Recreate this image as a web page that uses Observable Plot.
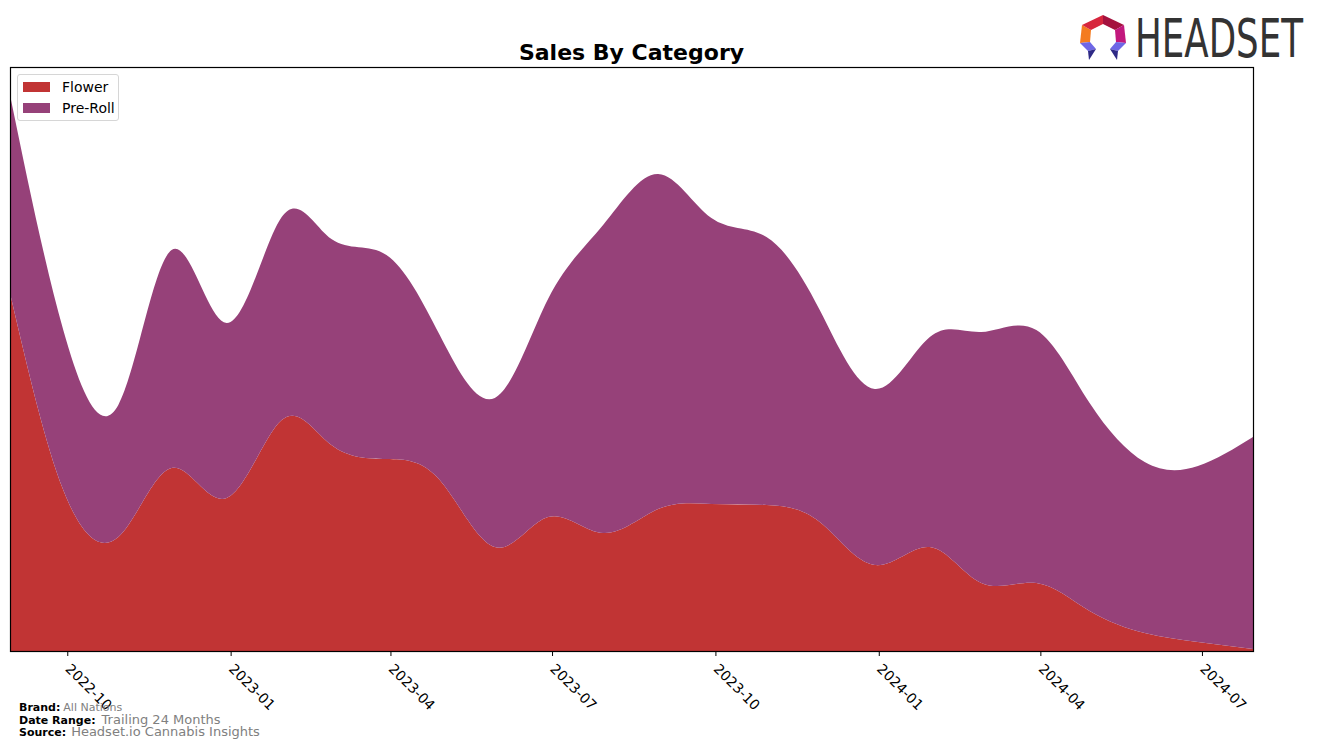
<!DOCTYPE html>
<html>
<head>
<meta charset="utf-8">
<script src="https://cdn.jsdelivr.net/npm/d3@7"></script>
<script src="https://cdn.jsdelivr.net/npm/@observablehq/plot@0.6"></script>
<style>
  body { margin: 0; background: #fff; font-family: "DejaVu Sans", sans-serif; }
  #wrap { position: relative; width: 1317px; height: 747px; overflow: hidden; }
  #chart { position: absolute; left: 0; top: 0; }
  #title { position: absolute; left: 10px; width: 1243px; top: 40px; text-align: center; font-weight: bold; font-size: 22px; color: #000; }
  #legend { position: absolute; left: 17px; top: 74px; width: 100px; height: 45px; border: 1px solid #d6d6d6; border-radius: 3px; background: rgba(255,255,255,0.8); font-size: 14px; }
  .li { position: absolute; left: 5px; height: 16px; display: flex; align-items: center; }
  .sw { width: 27px; height: 10px; margin-right: 12px; }
  #footer { position: absolute; left: 19px; top: 702px; font-size: 11px; line-height: 11.5px; }
  #footer b { color: #000; }
  #footer span { color: #808080; }
  #logo { position: absolute; left: 1072px; top: 0px; pointer-events: none; }
</style>
</head>
<body>
<div id="wrap">
  <div id="chart"></div>
  <div id="title">Sales By Category</div>
  <div id="legend"></div>
  <div id="footer"></div>
  <svg id="logo" width="245" height="86" viewBox="0 0 245 86">
    <g transform="translate(8,15)">
      <polygon points="2,10 11,15 10,27 0,28" fill="#f47b20"/>
      <polygon points="2,10 23,0 23,9 11,15" fill="#d7263d"/>
      <polygon points="23,0 44,10 35,15 23,9" fill="#a5123f"/>
      <polygon points="44,10 46,28 36,27 35,15" fill="#c2187d"/>
      <polygon points="0,28 10,27 16,34 8,36" fill="#6e67e6"/>
      <polygon points="8,36 16,34 9,45" fill="#2e2a86"/>
      <polygon points="46,28 36,27 30,34 38,36" fill="#6e67e6"/>
      <polygon points="38,36 30,34 37,45" fill="#2e2a86"/>
    </g>
    <g transform="translate(63,57) scale(1,1.22)">
      <text x="0" y="0" font-family="'DejaVu Sans Condensed','Liberation Sans Narrow',sans-serif" font-size="43" fill="#333" textLength="168" lengthAdjust="spacingAndGlyphs">HEADSET</text>
    </g>
  </svg>
</div>
<script>
const months = ["2022-09","2022-10","2022-11","2022-12","2023-01","2023-02","2023-03","2023-04","2023-05","2023-06","2023-07","2023-08","2023-09","2023-10","2023-11","2023-12","2024-01","2024-02","2024-03","2024-04","2024-05","2024-06","2024-07","2024-08"];
const categories = ["Flower", "Pre-Roll"];
const flowerSales = [358,161,114,183,153,231,206,192,171,104,134,118,142,147,146,129,86,104,68,68,40,18,9,2];
const preRollSales = [198,160,132,218,175,203,206,204,145,149,218,308,335,286,268,212,176,210,251,253,208,171,176,212];
const tickLabels = ["2022-10","2023-01","2023-04","2023-07","2023-10","2024-01","2024-04","2024-07"];
const colors = ["#c13434", "#964179"];

const parse = d3.utcParse("%Y-%m");
const series = [flowerSales, preRollSales];
const data = months.flatMap((m, i) => categories.map((c, j) => ({date: parse(m), category: c, sales: series[j][i]})));

const chart = Plot.plot({
  width: 1317, height: 747,
  marginLeft: 10, marginRight: 64, marginTop: 67, marginBottom: 96,
  style: {fontFamily: "DejaVu Sans, sans-serif", fontSize: "14px", color: "#000", background: "transparent"},
  x: {type: "utc", domain: [parse(months[0]), parse(months[months.length - 1])]},
  y: {domain: [0, 584], axis: null},
  color: {domain: categories, range: colors},
  marks: [
    Plot.areaY(data, Plot.stackY({x: "date", y: "sales", fill: "category", curve: "natural", order: categories, clip: "frame"})),
    Plot.axisX({ticks: tickLabels.map(parse), tickFormat: d3.utcFormat("%Y-%m"), tickRotate: 45, tickSize: 5, tickPadding: 10, dx: 4, textAnchor: "start", stroke: "#000", fill: "#000", fontSize: 14, label: null}),
    Plot.frame({stroke: "#000", strokeWidth: 1.2})
  ]
});
document.getElementById("chart").appendChild(chart);

const legend = document.getElementById("legend");
categories.forEach((c, i) => {
  const row = document.createElement("div");
  row.className = "li";
  row.style.top = (4 + i * 21) + "px";
  row.innerHTML = `<div class="sw" style="background:${colors[i]}"></div><div>${c}</div>`;
  legend.appendChild(row);
});

const footerRows = [["Brand:", "All Nations", 11, 3], ["Date Range:", "Trailing 24 Months", 13, 6], ["Source:", "Headset.io Cannabis Insights", 13, 5]];
document.getElementById("footer").innerHTML = footerRows.map(([k, v, s, g]) => `<div><b>${k}</b><span style="font-size:${s}px;margin-left:${g}px">${v}</span></div>`).join("");
</script>
</body>
</html>
